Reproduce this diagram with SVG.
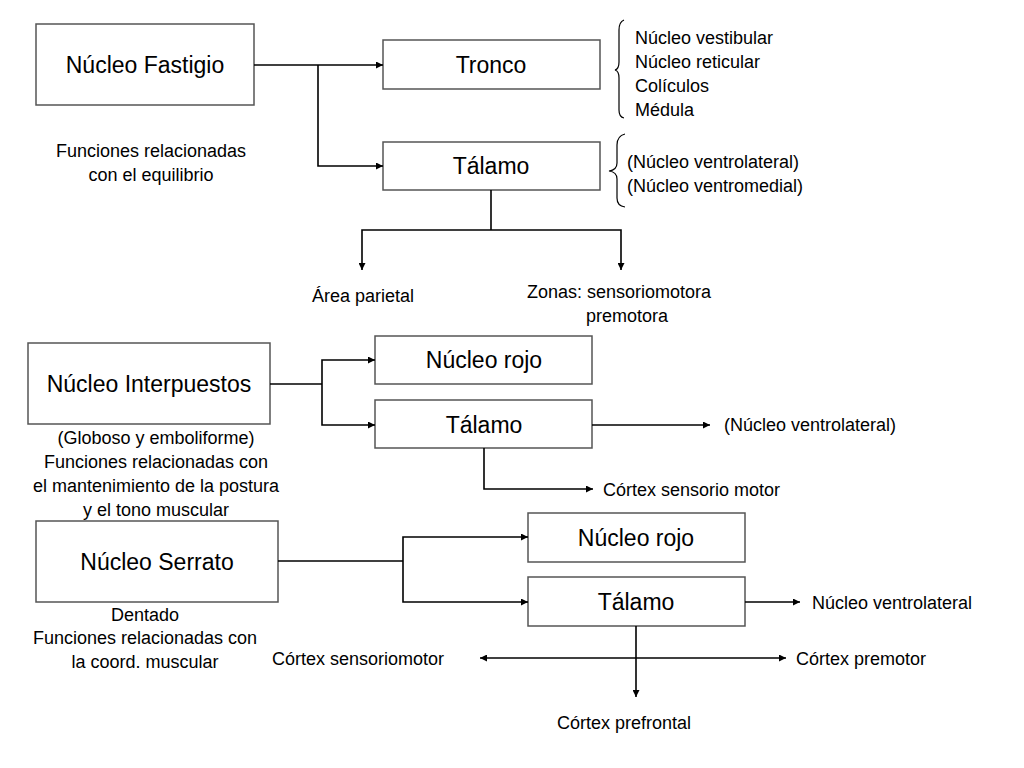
<svg xmlns="http://www.w3.org/2000/svg" width="1024" height="768" viewBox="0 0 1024 768">
<defs>
<marker id="ah" viewBox="0 0 10 10" refX="10" refY="5" markerWidth="9" markerHeight="7" markerUnits="userSpaceOnUse" orient="auto-start-reverse">
<path d="M0,0 L10,5 L0,10 z" fill="#000"/>
</marker>
<style>
.box{fill:#fff;stroke:#555;stroke-width:1.5}
.lbl{font-family:"Liberation Sans",Arial,sans-serif;font-size:23px;fill:#000;text-anchor:middle;dominant-baseline:central}
.t{font-family:"Liberation Sans",Arial,sans-serif;font-size:18px;fill:#000;dominant-baseline:central}
.c{text-anchor:middle}
.ln{fill:none;stroke:#000;stroke-width:1.6}
.ar{fill:none;stroke:#000;stroke-width:1.6;marker-end:url(#ah)}
.br{fill:none;stroke:#000;stroke-width:1.2}
</style>
</defs>
<rect width="1024" height="768" fill="#fff"/>

<g id="fastigio">
<rect class="box" x="36" y="24" width="218" height="81"/>
<text class="lbl" x="145" y="65">Núcleo Fastigio</text>
<text class="t c" x="151" y="151">Funciones relacionadas</text>
<text class="t c" x="151" y="175">con el equilibrio</text>
</g>
<g id="tronco">
<rect class="box" x="383" y="40" width="217" height="49"/>
<text class="lbl" x="491" y="65">Tronco</text>
<path class="br" d="M624,20 Q619,22 619,30 L619,62 Q619,69 615,70 Q619,71 619,78 L619,110 Q619,117 624,118"/>
<text class="t" x="635" y="38">Núcleo vestibular</text>
<text class="t" x="635" y="62">Núcleo reticular</text>
<text class="t" x="635" y="86">Colículos</text>
<text class="t" x="635" y="110">Médula</text>
</g>
<g id="talamo1">
<rect class="box" x="383" y="142" width="217" height="48"/>
<text class="lbl" x="491" y="166">Tálamo</text>
<path class="br" d="M625,134 Q617,136 617,145 L617,163 Q617,170 609,171 Q617,172 617,179 L617,198 Q617,206 625,207"/>
<text class="t" x="627" y="162">(Núcleo ventrolateral)</text>
<text class="t" x="627" y="186">(Núcleo ventromedial)</text>
</g>
<g id="parietal">
<text class="t c" x="363" y="296">Área parietal</text>
</g>
<g id="zonas">
<text class="t c" x="619" y="292">Zonas: sensoriomotora</text>
<text class="t c" x="627" y="316">premotora</text>
</g>

<g id="interpuestos">
<rect class="box" x="28" y="343" width="242" height="81"/>
<text class="lbl" x="149" y="384">Núcleo Interpuestos</text>
<text class="t c" x="156" y="438">(Globoso y emboliforme)</text>
<text class="t c" x="156" y="462">Funciones relacionadas con</text>
<text class="t c" x="156" y="486">el mantenimiento de la postura</text>
<text class="t c" x="156" y="510">y el tono muscular</text>
</g>
<g id="rojo2">
<rect class="box" x="375" y="336" width="217" height="48"/>
<text class="lbl" x="484" y="360">Núcleo rojo</text>
</g>
<g id="talamo2">
<rect class="box" x="375" y="400" width="217" height="48"/>
<text class="lbl" x="484" y="425">Tálamo</text>
<text class="t" x="724" y="425">(Núcleo ventrolateral)</text>
<text class="t" x="603" y="490">Córtex sensorio motor</text>
</g>

<g id="serrato">
<rect class="box" x="36" y="521" width="242" height="81"/>
<text class="lbl" x="157" y="562">Núcleo Serrato</text>
<text class="t c" x="145" y="615">Dentado</text>
<text class="t c" x="145" y="638">Funciones relacionadas con</text>
<text class="t c" x="145" y="662">la coord. muscular</text>
</g>
<g id="rojo3">
<rect class="box" x="528" y="513" width="217" height="49"/>
<text class="lbl" x="636" y="538">Núcleo rojo</text>
</g>
<g id="talamo3">
<rect class="box" x="528" y="577" width="217" height="49"/>
<text class="lbl" x="636" y="602">Tálamo</text>
<text class="t" x="812" y="603">Núcleo ventrolateral</text>
<text class="t" x="272" y="659">Córtex sensoriomotor</text>
<text class="t" x="796" y="659">Córtex premotor</text>
<text class="t c" x="624" y="723">Córtex prefrontal</text>
</g>

<g id="connectors">
<path class="ar" d="M254,65 L383,65"/>
<path class="ar" d="M318,65 L318,166 L383,166"/>
<path class="ln" d="M491,190 L491,230"/>
<path class="ar" d="M491,230 L362,230 L362,270"/>
<path class="ar" d="M491,230 L621,230 L621,270"/>

<path class="ln" d="M270,384 L322,384"/>
<path class="ar" d="M322,384 L322,360 L375,360"/>
<path class="ar" d="M322,384 L322,425 L375,425"/>
<path class="ar" d="M592,425 L710,425"/>
<path class="ar" d="M484,448 L484,489 L593,489"/>

<path class="ln" d="M278,561 L403,561"/>
<path class="ar" d="M403,561 L403,537 L528,537"/>
<path class="ar" d="M403,561 L403,602 L528,602"/>
<path class="ar" d="M745,602 L800,602"/>
<path class="ar" d="M636,626 L636,697"/>
<path class="ar" d="M636,658 L480,658"/>
<path class="ar" d="M636,658 L786,658"/>
</g>
</svg>
